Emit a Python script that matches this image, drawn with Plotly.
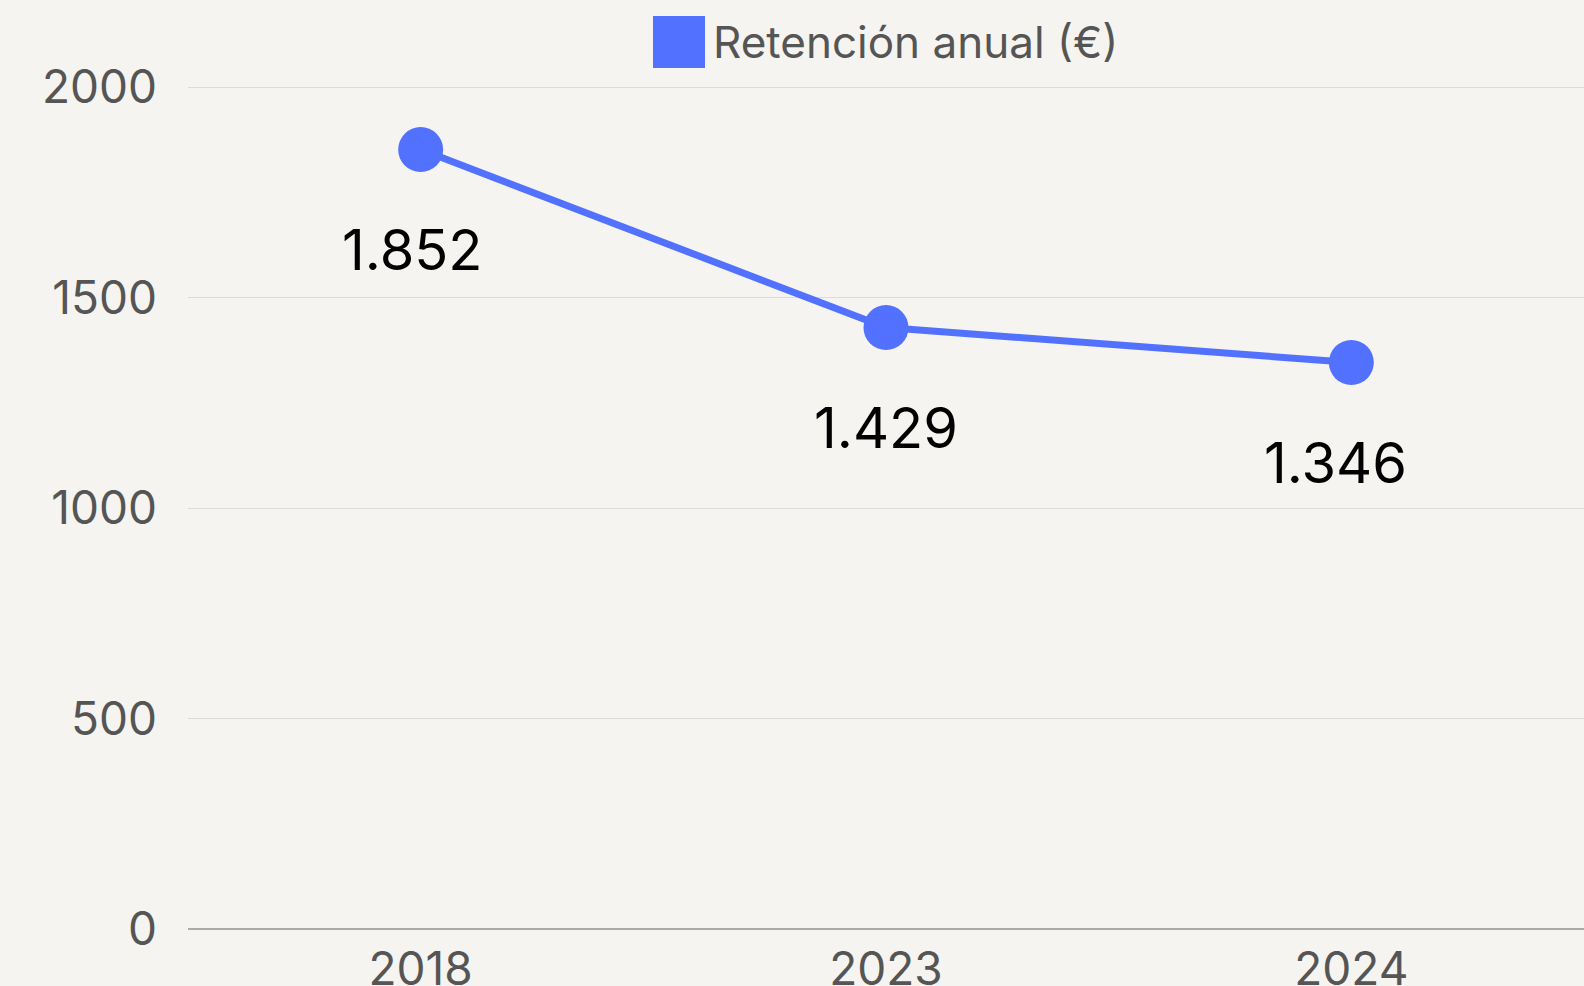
import plotly.graph_objects as go

years = ["2018", "2023", "2024"]
retention = [1852, 1429, 1346]
labels = ["1.852", "1.429", "1.346"]
series_name = "Retención anual (€)"
y_ticks = [0, 500, 1000, 1500, 2000]

BLUE = "#5271FF"
BG = "#F5F4F0"

fig = go.Figure()
fig.add_trace(go.Scatter(
    x=years, y=retention, mode="lines+markers", name=series_name,
    line=dict(color=BLUE, width=7),
    marker=dict(color=BLUE, size=45),
    showlegend=False, hoverinfo="skip",
))

xshifts = [-8, 0, -16]
for i, (y, t) in enumerate(zip(retention, labels)):
    fig.add_annotation(x=i, y=y, xref="x", yref="y", text=t, showarrow=False,
                       yshift=-100, xshift=xshifts[i],
                       font=dict(family="Inter", size=56, color="#000000"))

# legend (square + label)
fig.add_shape(type="rect", xref="paper", yref="paper",
              x0=(653 - 188) / 1396, x1=(705 - 188) / 1396,
              y0=1 + (86 - 68) / 843, y1=1 + (86 - 16) / 843,
              fillcolor=BLUE, line=dict(width=0))
fig.add_annotation(xref="paper", yref="paper", x=(711 - 188) / 1396, y=1 + (86 - 42) / 843,
                   xanchor="left", yanchor="middle", showarrow=False, text=series_name,
                   font=dict(family="Inter", size=44, color="#555555"))

fig.update_layout(
    width=1584, height=986,
    paper_bgcolor=BG, plot_bgcolor=BG,
    margin=dict(l=188, r=0, t=86, b=57, autoexpand=False),
    font=dict(family="Inter", size=46, color="#555555"),
    showlegend=False,
)
fig.update_xaxes(type="category", range=[-0.5, 2.5], showgrid=False, showline=False,
                 zeroline=False, ticks="", ticklabelstandoff=9, automargin=False,
                 tickfont=dict(size=46, color="#555555"))
fig.update_yaxes(range=[0, 2003], tickvals=y_ticks, showgrid=True, gridcolor="#DCDBD7",
                 gridwidth=1, zeroline=True, zerolinecolor="#AAAAAA", zerolinewidth=2,
                 showline=False, ticks="", ticklabelstandoff=30, automargin=False,
                 tickfont=dict(size=46, color="#555555"))

fig.write_html("out.html", config={"displayModeBar": False},
               post_script="document.body.style.margin='0';")
